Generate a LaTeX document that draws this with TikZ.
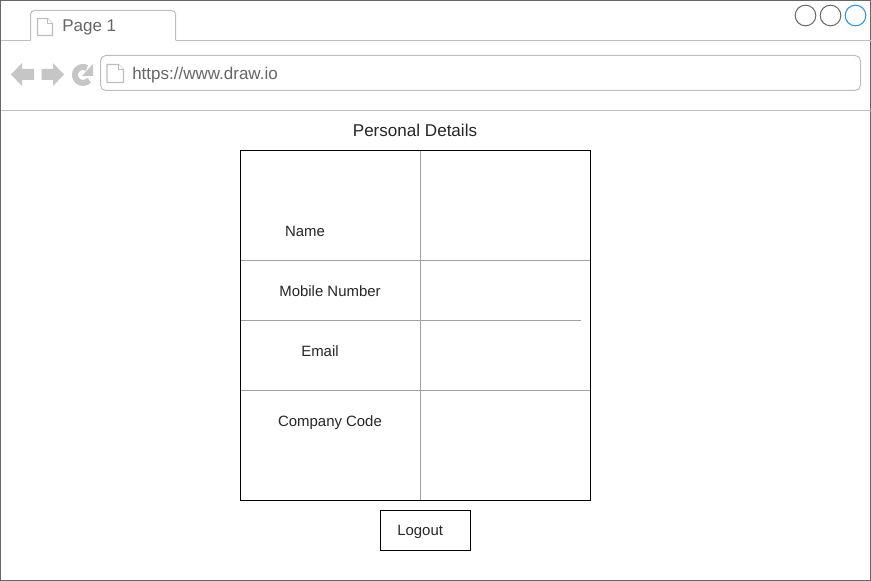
\documentclass[tikz,border=0pt]{standalone}
\usepackage{fontspec}
\setmainfont{Liberation Sans}
\begin{document}
\begin{tikzpicture}[x=0.75pt,y=-0.75pt]
    \definecolor{frameline}{RGB}{102,102,102}
    \definecolor{chrome}{RGB}{190,190,190}
    \definecolor{iconfill}{RGB}{198,198,198}
    \definecolor{urltext}{RGB}{102,102,102}
    \definecolor{bluedot}{RGB}{30,144,220}
    \definecolor{gridline}{RGB}{160,160,160}

    \tikzstyle{label}=[font=\fontsize{11.2pt}{13pt}\selectfont,text=black!85,inner sep=0pt,text height=8pt,text depth=0pt]
    \tikzstyle{tabtext}=[font=\fontsize{12.75pt}{15pt}\selectfont,text=urltext,inner sep=0pt,text height=9pt,text depth=0pt]
    \tikzstyle{dot}=[circle,draw=frameline,line width=0.75pt,minimum size=15.5pt,inner sep=0pt]
    \tikzstyle{chromeline}=[draw=chrome,line width=0.75pt]
    \tikzstyle{grid}=[draw=gridline,line width=0.75pt]
    \tikzstyle{pageicon}=[draw=chrome,fill=white,line width=0.9pt,line join=round]

    \useasboundingbox (0,0) rectangle (871,581);

    % browser frame
    \draw [frameline,line width=0.75pt,fill=white] (0.5,0.5) rectangle (870.5,580.5);
    \draw [chromeline] (0.5,40.5) -- (30.5,40.5);
    \draw [chromeline] (175.5,40.5) -- (870.5,40.5);
    \draw [chromeline] (0.5,110.5) -- (870.5,110.5);
    \draw [chromeline,fill=white,rounded corners=3pt] (30.5,40.5) -- (30.5,10.5) -- (175.5,10.5) -- (175.5,40.5);
    \draw [chromeline,rounded corners=4pt] (100.5,55.5) rectangle (860.5,90.5);

    \node[dot] (dotA) at (805.5,15.5) {};
    \node[dot] (dotB) at (830.5,15.5) {};
    \node[dot,draw=bluedot] (dotC) at (855.5,15.5) {};

    % page icons
    \draw [pageicon] (37.5,18.5) -- (47.5,18.5) -- (52.5,23.5) -- (52.5,35.5) -- (37.5,35.5) -- cycle;
    \draw [pageicon] (47.5,18.5) -- (47.5,23.5) -- (52.5,23.5);
    \draw [pageicon] (107,64.5) -- (118.5,64.5) -- (123.5,69.5) -- (123.5,82.5) -- (107,82.5) -- cycle;
    \draw [pageicon] (118.5,64.5) -- (118.5,69.5) -- (123.5,69.5);

    % back, forward, reload
    \fill [iconfill] (11,74.5) -- (22,63) -- (22,69) -- (34,69) -- (34,80) -- (22,80) -- (22,86) -- cycle;
    \fill [iconfill] (64,74.5) -- (53,63) -- (53,69) -- (41.5,69) -- (41.5,80) -- (53,80) -- (53,86) -- cycle;
    \draw [iconfill,line width=4.5pt] (89.1,80.1) arc (40:300:8);
    \fill [iconfill] (93,64) -- (93,76) -- (82,76) -- cycle;

    \node[tabtext,anchor=west] (tabname) at (62,25.5) {Page 1};
    \node[tabtext,anchor=west] (urlname) at (132,73.5) {https://www.draw.io};

    \node[label,font=\fontsize{12.8pt}{15pt}\selectfont,text height=9pt] (title) at (415,130.5) {Personal Details};

    % table
    \coordinate (tl) at (240.5,150.5);
    \coordinate (tr) at (590.5,150.5);
    \coordinate (bl) at (240.5,500.5);
    \coordinate (br) at (590.5,500.5);
    \coordinate (midT) at (420.5,150.5);
    \coordinate (midB) at (420.5,500.5);
    \coordinate (rowAl) at (240.5,260.5);
    \coordinate (rowAr) at (590.5,260.5);
    \coordinate (rowBl) at (240.5,320.5);
    \coordinate (rowBr) at (580.5,320.5);
    \coordinate (rowCl) at (240.5,390.5);
    \coordinate (rowCr) at (590.5,390.5);

    \draw [grid] (midT) -- (midB);
    \draw [grid] (rowAl) -- (rowAr);
    \draw [grid] (rowBl) -- (rowBr);
    \draw [grid] (rowCl) -- (rowCr);
    \draw [black,line width=0.75pt] (tl) -- (tr) -- (br) -- (bl) -- cycle;

    \node[label] (name) at (305,231) {Name};
    \node[label] (mobile) at (330,291) {Mobile Number};
    \node[label] (email) at (320,351) {Email};
    \node[label] (code) at (330,421) {Company Code};

    \node[label,draw=black,line width=0.75pt,minimum width=67.5pt,minimum height=30pt] (logout) at (425.5,530.5) {Logout\hspace*{8pt}};
\end{tikzpicture}
\end{document}
